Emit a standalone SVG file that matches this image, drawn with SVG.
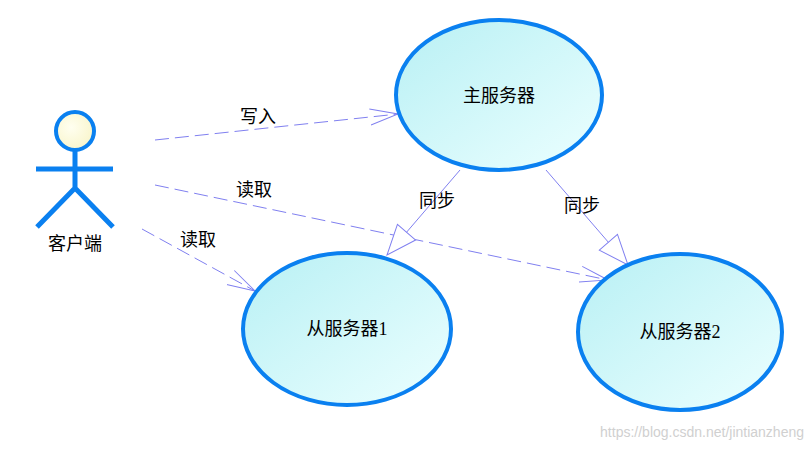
<svg xmlns="http://www.w3.org/2000/svg" width="811" height="449" viewBox="0 0 811 449">
<defs>
<linearGradient id="uc" x1="0" y1="0" x2="1" y2="1"><stop offset="0" stop-color="#b8f0f4"/><stop offset="1" stop-color="#ecffff"/></linearGradient>
<radialGradient id="hd" cx="0.4" cy="0.4" r="0.7"><stop offset="0" stop-color="#fffff0"/><stop offset="1" stop-color="#f8f4c8"/></radialGradient>
<marker id="open" markerWidth="30" markerHeight="20" refX="28" refY="10" orient="auto" markerUnits="userSpaceOnUse"><path d="M0,2 L28,10 L0,18" fill="none" stroke="#8080f0" stroke-width="1"/></marker>
<marker id="tri" markerWidth="34" markerHeight="26" refX="32" refY="13" orient="auto" markerUnits="userSpaceOnUse"><path d="M2,1 L32,13 L2,25 Z" fill="#fff" stroke="#8080f0" stroke-width="1"/></marker>
</defs>
<style>
.uc{fill:url(#uc);stroke:#0a80f0;stroke-width:4}
.t{font-family:"Liberation Serif","Noto Sans CJK SC",serif;font-size:18px;fill:#000;text-anchor:middle}
.dep{stroke:#8080f0;stroke-width:1;fill:none;stroke-dasharray:14 6;marker-end:url(#open)}
.gen{stroke:#8080f0;stroke-width:1;fill:none;marker-end:url(#tri)}
.act{stroke:#0a80f0;stroke-width:5;fill:none}
</style>
<rect width="811" height="449" fill="#fff"/>
<g id="connectors">
<line class="dep" x1="155" y1="140" x2="398" y2="114"/>
<line class="dep" x1="155" y1="185" x2="608" y2="280"/>
<line class="dep" x1="142" y1="229" x2="255" y2="291"/>
<line class="gen" x1="460" y1="170" x2="387" y2="255"/>
<line class="gen" x1="546" y1="170" x2="628" y2="265"/>
<text class="t" x="258" y="123">写入</text>
<text class="t" x="254" y="196">读取</text>
<text class="t" x="198" y="246">读取</text>
<text class="t" x="437" y="207">同步</text>
<text class="t" x="582" y="212">同步</text>
</g>
<g id="client">
<circle cx="75" cy="131" r="19" fill="url(#hd)" stroke="#0a80f0" stroke-width="4"/>
<path class="act" d="M75,150 V188 M36,169 H113 M37,227 L75,188 L113,227"/>
<text class="t" x="75" y="250">客户端</text>
</g>
<g id="master">
<ellipse class="uc" cx="499" cy="95" rx="103" ry="75"/>
<text class="t" x="499" y="102">主服务器</text>
</g>
<g id="slave1">
<ellipse class="uc" cx="347" cy="329" rx="104" ry="76"/>
<text class="t" x="347" y="335">从服务器1</text>
</g>
<g id="slave2">
<ellipse class="uc" cx="680" cy="332" rx="102" ry="78"/>
<text class="t" x="680" y="338">从服务器2</text>
</g>
<text x="804" y="437" font-family="Liberation Sans,sans-serif" font-size="14" fill="#d0d0d0" text-anchor="end">https://blog.csdn.net/jintianzheng</text>
</svg>
